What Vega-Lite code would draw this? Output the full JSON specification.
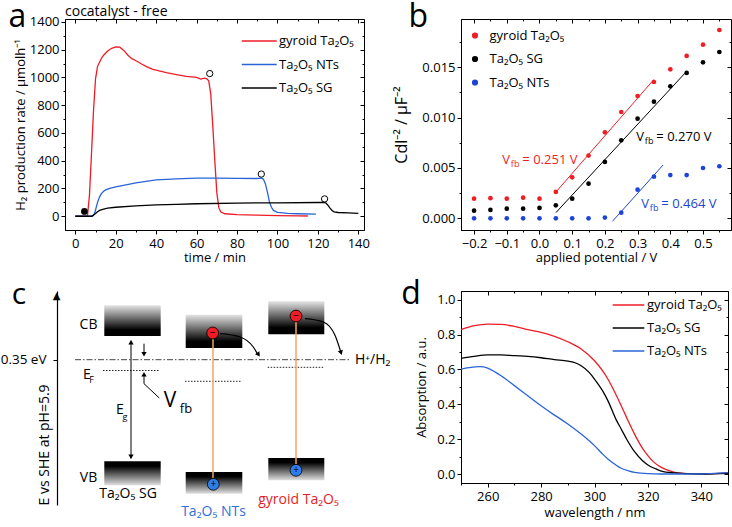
{
"$schema": "https://vega.github.io/schema/vega-lite/v6.json",
"padding": {"left": 0, "top": 0, "right": 0, "bottom": 0},
"bounds": "flush",
"columns": 2,
"align": {"row": "each", "column": "none"},
"spacing": {"row": 61, "column": 90},
"resolve": {"scale": {"color": "independent", "fill": "independent", "shape": "independent"}, "legend": {"color": "independent"}},
"config": {
  "font": "Open Sans",
  "view": {"stroke": "#000", "strokeWidth": 1},
  "axis": {"grid": false, "domainColor": "#000", "tickColor": "#000", "labelColor": "#000", "titleColor": "#000", "labelFontSize": 13, "titleFontSize": 13, "titleFontWeight": "normal", "labelFont": "Open Sans", "titleFont": "Open Sans", "labelPadding": 3, "tickSize": 4, "tickWidth": 1, "domainWidth": 1},
  "legend": {"labelFontSize": 13, "labelFont": "Open Sans", "labelColor": "#000", "padding": 0},
  "title": {"font": "Open Sans", "fontWeight": "normal", "color": "#000"}
},
"datasets": {
  "h2": [
    {"s":"gyroid Ta₂O₅","t":0,"r":0},{"s":"gyroid Ta₂O₅","t":6,"r":0},{"s":"gyroid Ta₂O₅","t":7,"r":150},{"s":"gyroid Ta₂O₅","t":8,"r":450},{"s":"gyroid Ta₂O₅","t":9,"r":760},{"s":"gyroid Ta₂O₅","t":10,"r":990},{"s":"gyroid Ta₂O₅","t":11,"r":1080},{"s":"gyroid Ta₂O₅","t":12,"r":1110},{"s":"gyroid Ta₂O₅","t":13,"r":1140},{"s":"gyroid Ta₂O₅","t":14,"r":1160},{"s":"gyroid Ta₂O₅","t":16,"r":1190},{"s":"gyroid Ta₂O₅","t":18,"r":1210},{"s":"gyroid Ta₂O₅","t":20,"r":1220},{"s":"gyroid Ta₂O₅","t":22,"r":1218},{"s":"gyroid Ta₂O₅","t":24,"r":1195},{"s":"gyroid Ta₂O₅","t":26,"r":1160},{"s":"gyroid Ta₂O₅","t":28,"r":1135},{"s":"gyroid Ta₂O₅","t":30,"r":1120},{"s":"gyroid Ta₂O₅","t":33,"r":1095},{"s":"gyroid Ta₂O₅","t":35,"r":1080},{"s":"gyroid Ta₂O₅","t":38,"r":1060},{"s":"gyroid Ta₂O₅","t":40,"r":1052},{"s":"gyroid Ta₂O₅","t":45,"r":1035},{"s":"gyroid Ta₂O₅","t":50,"r":1021},{"s":"gyroid Ta₂O₅","t":55,"r":1008},{"s":"gyroid Ta₂O₅","t":60,"r":1000},{"s":"gyroid Ta₂O₅","t":62,"r":988},{"s":"gyroid Ta₂O₅","t":64,"r":995},{"s":"gyroid Ta₂O₅","t":65,"r":990},{"s":"gyroid Ta₂O₅","t":66,"r":975},{"s":"gyroid Ta₂O₅","t":67,"r":880},{"s":"gyroid Ta₂O₅","t":68,"r":650},{"s":"gyroid Ta₂O₅","t":69,"r":400},{"s":"gyroid Ta₂O₅","t":70,"r":170},{"s":"gyroid Ta₂O₅","t":71,"r":60},{"s":"gyroid Ta₂O₅","t":72,"r":30},{"s":"gyroid Ta₂O₅","t":74,"r":18},{"s":"gyroid Ta₂O₅","t":80,"r":12},{"s":"gyroid Ta₂O₅","t":90,"r":8},{"s":"gyroid Ta₂O₅","t":100,"r":5},{"s":"gyroid Ta₂O₅","t":110,"r":3},{"s":"gyroid Ta₂O₅","t":115,"r":2},
    {"s":"Ta₂O₅ NTs","t":0,"r":0},{"s":"Ta₂O₅ NTs","t":8.5,"r":0},{"s":"Ta₂O₅ NTs","t":9.5,"r":20},{"s":"Ta₂O₅ NTs","t":10,"r":45},{"s":"Ta₂O₅ NTs","t":11,"r":100},{"s":"Ta₂O₅ NTs","t":12,"r":140},{"s":"Ta₂O₅ NTs","t":13,"r":165},{"s":"Ta₂O₅ NTs","t":14,"r":180},{"s":"Ta₂O₅ NTs","t":15,"r":190},{"s":"Ta₂O₅ NTs","t":17,"r":200},{"s":"Ta₂O₅ NTs","t":20,"r":212},{"s":"Ta₂O₅ NTs","t":25,"r":226},{"s":"Ta₂O₅ NTs","t":30,"r":240},{"s":"Ta₂O₅ NTs","t":35,"r":252},{"s":"Ta₂O₅ NTs","t":40,"r":262},{"s":"Ta₂O₅ NTs","t":45,"r":266},{"s":"Ta₂O₅ NTs","t":50,"r":270},{"s":"Ta₂O₅ NTs","t":60,"r":274},{"s":"Ta₂O₅ NTs","t":70,"r":275},{"s":"Ta₂O₅ NTs","t":80,"r":273},{"s":"Ta₂O₅ NTs","t":90,"r":272},{"s":"Ta₂O₅ NTs","t":92,"r":275},{"s":"Ta₂O₅ NTs","t":93,"r":268},{"s":"Ta₂O₅ NTs","t":94,"r":235},{"s":"Ta₂O₅ NTs","t":95,"r":175},{"s":"Ta₂O₅ NTs","t":96,"r":105},{"s":"Ta₂O₅ NTs","t":97,"r":65},{"s":"Ta₂O₅ NTs","t":98,"r":42},{"s":"Ta₂O₅ NTs","t":100,"r":28},{"s":"Ta₂O₅ NTs","t":105,"r":21},{"s":"Ta₂O₅ NTs","t":110,"r":18},{"s":"Ta₂O₅ NTs","t":119,"r":15},
    {"s":"Ta₂O₅ SG","t":0,"r":0},{"s":"Ta₂O₅ SG","t":8,"r":0},{"s":"Ta₂O₅ SG","t":9,"r":8},{"s":"Ta₂O₅ SG","t":10,"r":20},{"s":"Ta₂O₅ SG","t":11,"r":32},{"s":"Ta₂O₅ SG","t":12,"r":42},{"s":"Ta₂O₅ SG","t":14,"r":52},{"s":"Ta₂O₅ SG","t":16,"r":58},{"s":"Ta₂O₅ SG","t":20,"r":65},{"s":"Ta₂O₅ SG","t":30,"r":75},{"s":"Ta₂O₅ SG","t":40,"r":82},{"s":"Ta₂O₅ SG","t":50,"r":86},{"s":"Ta₂O₅ SG","t":60,"r":90},{"s":"Ta₂O₅ SG","t":80,"r":95},{"s":"Ta₂O₅ SG","t":100,"r":97},{"s":"Ta₂O₅ SG","t":120,"r":99},{"s":"Ta₂O₅ SG","t":123,"r":100},{"s":"Ta₂O₅ SG","t":124,"r":95},{"s":"Ta₂O₅ SG","t":125,"r":78},{"s":"Ta₂O₅ SG","t":126,"r":58},{"s":"Ta₂O₅ SG","t":127,"r":42},{"s":"Ta₂O₅ SG","t":128,"r":32},{"s":"Ta₂O₅ SG","t":130,"r":27},{"s":"Ta₂O₅ SG","t":135,"r":24},{"s":"Ta₂O₅ SG","t":140,"r":21}
  ],
  "h2marks": [
    {"k":"start","t":4.5,"r":35},{"k":"stop","t":66.5,"r":1028},{"k":"stop","t":92,"r":304},{"k":"stop","t":123.3,"r":125}
  ],
  "mott": [
    {"s":"gyroid Ta₂O₅","v":-0.2,"c":0.00195},{"s":"gyroid Ta₂O₅","v":-0.15,"c":0.0020},{"s":"gyroid Ta₂O₅","v":-0.1,"c":0.00195},{"s":"gyroid Ta₂O₅","v":-0.05,"c":0.00205},{"s":"gyroid Ta₂O₅","v":0,"c":0.00195},{"s":"gyroid Ta₂O₅","v":0.05,"c":0.00262},{"s":"gyroid Ta₂O₅","v":0.1,"c":0.00407},{"s":"gyroid Ta₂O₅","v":0.15,"c":0.00623},{"s":"gyroid Ta₂O₅","v":0.2,"c":0.00854},{"s":"gyroid Ta₂O₅","v":0.25,"c":0.01056},{"s":"gyroid Ta₂O₅","v":0.3,"c":0.01215},{"s":"gyroid Ta₂O₅","v":0.35,"c":0.01354},{"s":"gyroid Ta₂O₅","v":0.4,"c":0.0148},{"s":"gyroid Ta₂O₅","v":0.45,"c":0.01613},{"s":"gyroid Ta₂O₅","v":0.5,"c":0.01725},{"s":"gyroid Ta₂O₅","v":0.55,"c":0.01871},
    {"s":"Ta₂O₅ SG","v":-0.2,"c":0.00076},{"s":"Ta₂O₅ SG","v":-0.15,"c":0.00083},{"s":"Ta₂O₅ SG","v":-0.1,"c":0.00096},{"s":"Ta₂O₅ SG","v":-0.05,"c":0.00096},{"s":"Ta₂O₅ SG","v":0,"c":0.00103},{"s":"Ta₂O₅ SG","v":0.05,"c":0.00129},{"s":"Ta₂O₅ SG","v":0.1,"c":0.00195},{"s":"Ta₂O₅ SG","v":0.15,"c":0.00344},{"s":"Ta₂O₅ SG","v":0.2,"c":0.0056},{"s":"Ta₂O₅ SG","v":0.25,"c":0.00775},{"s":"Ta₂O₅ SG","v":0.3,"c":0.0099},{"s":"Ta₂O₅ SG","v":0.35,"c":0.01159},{"s":"Ta₂O₅ SG","v":0.4,"c":0.01311},{"s":"Ta₂O₅ SG","v":0.45,"c":0.01444},{"s":"Ta₂O₅ SG","v":0.5,"c":0.0155},{"s":"Ta₂O₅ SG","v":0.55,"c":0.01652},
    {"s":"Ta₂O₅ NTs","v":-0.2,"c":0},{"s":"Ta₂O₅ NTs","v":-0.15,"c":0},{"s":"Ta₂O₅ NTs","v":-0.1,"c":0},{"s":"Ta₂O₅ NTs","v":-0.05,"c":0},{"s":"Ta₂O₅ NTs","v":0,"c":0},{"s":"Ta₂O₅ NTs","v":0.05,"c":0},{"s":"Ta₂O₅ NTs","v":0.1,"c":0},{"s":"Ta₂O₅ NTs","v":0.15,"c":0},{"s":"Ta₂O₅ NTs","v":0.2,"c":0.00007},{"s":"Ta₂O₅ NTs","v":0.25,"c":0.00056},{"s":"Ta₂O₅ NTs","v":0.3,"c":0.00285},{"s":"Ta₂O₅ NTs","v":0.35,"c":0.00414},{"s":"Ta₂O₅ NTs","v":0.4,"c":0.0043},{"s":"Ta₂O₅ NTs","v":0.45,"c":0.0043},{"s":"Ta₂O₅ NTs","v":0.5,"c":0.005},{"s":"Ta₂O₅ NTs","v":0.55,"c":0.00517}
  ],
  "fits": [
    {"s":"gyroid Ta₂O₅","v":0.05,"c":0.0026},{"s":"gyroid Ta₂O₅","v":0.35,"c":0.0138},
    {"s":"Ta₂O₅ SG","v":0.05,"c":0.00056},{"s":"Ta₂O₅ SG","v":0.45,"c":0.0146},
    {"s":"Ta₂O₅ NTs","v":0.223,"c":-0.0003},{"s":"Ta₂O₅ NTs","v":0.378,"c":0.0053}
  ],
  "vfb": [
    {"s":"gyroid Ta₂O₅","v":-0.1135,"c":0.00576,"txt":"= 0.251 V"},
    {"s":"Ta₂O₅ SG","v":0.2962,"c":0.00808,"txt":"= 0.270 V"},
    {"s":"Ta₂O₅ NTs","v":0.3115,"c":0.00139,"txt":"= 0.464 V"}
  ],
  "abs": [
    {"s":"gyroid Ta₂O₅","w":250,"a":0.828},{"s":"gyroid Ta₂O₅","w":255,"a":0.851},{"s":"gyroid Ta₂O₅","w":260,"a":0.86},{"s":"gyroid Ta₂O₅","w":265,"a":0.858},{"s":"gyroid Ta₂O₅","w":270,"a":0.847},{"s":"gyroid Ta₂O₅","w":275,"a":0.828},{"s":"gyroid Ta₂O₅","w":280,"a":0.813},{"s":"gyroid Ta₂O₅","w":285,"a":0.79},{"s":"gyroid Ta₂O₅","w":290,"a":0.759},{"s":"gyroid Ta₂O₅","w":295,"a":0.717},{"s":"gyroid Ta₂O₅","w":300,"a":0.65},{"s":"gyroid Ta₂O₅","w":303,"a":0.593},{"s":"gyroid Ta₂O₅","w":305,"a":0.545},{"s":"gyroid Ta₂O₅","w":307,"a":0.488},{"s":"gyroid Ta₂O₅","w":310,"a":0.392},{"s":"gyroid Ta₂O₅","w":312,"a":0.325},{"s":"gyroid Ta₂O₅","w":315,"a":0.229},{"s":"gyroid Ta₂O₅","w":318,"a":0.147},{"s":"gyroid Ta₂O₅","w":320,"a":0.105},{"s":"gyroid Ta₂O₅","w":322,"a":0.071},{"s":"gyroid Ta₂O₅","w":325,"a":0.038},{"s":"gyroid Ta₂O₅","w":328,"a":0.019},{"s":"gyroid Ta₂O₅","w":330,"a":0.01},{"s":"gyroid Ta₂O₅","w":335,"a":0.002},{"s":"gyroid Ta₂O₅","w":340,"a":0},{"s":"gyroid Ta₂O₅","w":345,"a":0.002},{"s":"gyroid Ta₂O₅","w":350,"a":0.006},
    {"s":"Ta₂O₅ SG","w":250,"a":0.664},{"s":"Ta₂O₅ SG","w":255,"a":0.675},{"s":"Ta₂O₅ SG","w":260,"a":0.683},{"s":"Ta₂O₅ SG","w":265,"a":0.684},{"s":"Ta₂O₅ SG","w":270,"a":0.679},{"s":"Ta₂O₅ SG","w":275,"a":0.675},{"s":"Ta₂O₅ SG","w":280,"a":0.667},{"s":"Ta₂O₅ SG","w":285,"a":0.656},{"s":"Ta₂O₅ SG","w":290,"a":0.648},{"s":"Ta₂O₅ SG","w":293,"a":0.637},{"s":"Ta₂O₅ SG","w":295,"a":0.621},{"s":"Ta₂O₅ SG","w":298,"a":0.583},{"s":"Ta₂O₅ SG","w":300,"a":0.545},{"s":"Ta₂O₅ SG","w":303,"a":0.478},{"s":"Ta₂O₅ SG","w":305,"a":0.421},{"s":"Ta₂O₅ SG","w":308,"a":0.315},{"s":"Ta₂O₅ SG","w":310,"a":0.258},{"s":"Ta₂O₅ SG","w":312,"a":0.201},{"s":"Ta₂O₅ SG","w":315,"a":0.128},{"s":"Ta₂O₅ SG","w":318,"a":0.076},{"s":"Ta₂O₅ SG","w":320,"a":0.052},{"s":"Ta₂O₅ SG","w":323,"a":0.029},{"s":"Ta₂O₅ SG","w":325,"a":0.017},{"s":"Ta₂O₅ SG","w":330,"a":0.006},{"s":"Ta₂O₅ SG","w":335,"a":0.002},{"s":"Ta₂O₅ SG","w":340,"a":0},{"s":"Ta₂O₅ SG","w":350,"a":0.004},
    {"s":"Ta₂O₅ NTs","w":250,"a":0.602},{"s":"Ta₂O₅ NTs","w":253,"a":0.61},{"s":"Ta₂O₅ NTs","w":257,"a":0.616},{"s":"Ta₂O₅ NTs","w":260,"a":0.608},{"s":"Ta₂O₅ NTs","w":263,"a":0.583},{"s":"Ta₂O₅ NTs","w":265,"a":0.564},{"s":"Ta₂O₅ NTs","w":270,"a":0.507},{"s":"Ta₂O₅ NTs","w":275,"a":0.449},{"s":"Ta₂O₅ NTs","w":280,"a":0.392},{"s":"Ta₂O₅ NTs","w":285,"a":0.338},{"s":"Ta₂O₅ NTs","w":290,"a":0.287},{"s":"Ta₂O₅ NTs","w":295,"a":0.229},{"s":"Ta₂O₅ NTs","w":298,"a":0.191},{"s":"Ta₂O₅ NTs","w":300,"a":0.163},{"s":"Ta₂O₅ NTs","w":303,"a":0.115},{"s":"Ta₂O₅ NTs","w":305,"a":0.086},{"s":"Ta₂O₅ NTs","w":308,"a":0.052},{"s":"Ta₂O₅ NTs","w":310,"a":0.033},{"s":"Ta₂O₅ NTs","w":313,"a":0.017},{"s":"Ta₂O₅ NTs","w":315,"a":0.01},{"s":"Ta₂O₅ NTs","w":320,"a":0.002},{"s":"Ta₂O₅ NTs","w":325,"a":0},{"s":"Ta₂O₅ NTs","w":340,"a":0},{"s":"Ta₂O₅ NTs","w":345,"a":0.004},{"s":"Ta₂O₅ NTs","w":350,"a":0.008}
  ],
  "bands": [
    {"m":"SG","b":"CB","x":0.393,"x2":0.957,"y":0.894,"y2":0.587},
    {"m":"SG","b":"VB","x":0.393,"x2":0.957,"y":-0.666,"y2":-0.906},
    {"m":"NTs","b":"CB","x":1.207,"x2":1.773,"y":0.80,"y2":0.467},
    {"m":"NTs","b":"VB","x":1.207,"x2":1.773,"y":-0.773,"y2":-0.99},
    {"m":"gyroid","b":"CB","x":2.033,"x2":2.593,"y":0.934,"y2":0.604},
    {"m":"gyroid","b":"VB","x":2.033,"x2":2.593,"y":-0.633,"y2":-0.856}
  ],
  "fermi": [
    {"m":"SG","x":0.38,"x2":0.95,"y":0.242},
    {"m":"NTs","x":1.20,"x2":1.767,"y":0.134},
    {"m":"gyroid","x":2.027,"x2":2.583,"y":0.274}
  ],
  "redox": [{"x":0.10,"x2":2.85,"y":0.35}],
  "eaxishead": [{"txt":"▲","x":-0.083,"y":0.99}],
  "shafts": [
    {"what":"Eg","x":0.66,"y":0.54,"y2":-0.636},
    {"what":"Vfb down","x":0.79,"y":0.51,"y2":0.41}
  ],
  "leader": [
    {"i":1,"x":0.79,"y":0.19},{"i":2,"x":0.79,"y":0.11},{"i":3,"x":0.943,"y":-0.033}
  ],
  "heads": [
    {"d":"up","x":0.66,"y":0.525},
    {"d":"down","x":0.66,"y":-0.62},
    {"d":"down","x":0.79,"y":0.405},
    {"d":"up","x":0.79,"y":0.205}
  ],
  "trans": [
    {"m":"NTs","x":1.48,"y":0.557,"y2":-0.833},
    {"m":"gyroid","x":2.31,"y":0.727,"y2":-0.693}
  ],
  "curves": [
    {"a":"NTs","x":1.55,"y":0.61},{"a":"NTs","x":1.75,"y":0.577},{"a":"NTs","x":1.883,"y":0.477},{"a":"NTs","x":1.93,"y":0.40},
    {"a":"gyroid","x":2.40,"y":0.76},{"a":"gyroid","x":2.583,"y":0.727},{"a":"gyroid","x":2.70,"y":0.594},{"a":"gyroid","x":2.755,"y":0.437}
  ],
  "curveheads": [
    {"a":"NTs","x":1.935,"y":0.40},
    {"a":"gyroid","x":2.76,"y":0.42}
  ],
  "carriers": [
    {"q":"e","sg":"−","x":1.477,"y":0.617},
    {"q":"e","sg":"−","x":2.31,"y":0.787},
    {"q":"h","sg":"+","x":1.483,"y":-0.896},
    {"q":"h","sg":"+","x":2.31,"y":-0.756}
  ],
  "ctext": [
    {"role":"label","g":"none","txt":"CB","x":0.235,"y":0.697},
    {"role":"label","g":"none","txt":"VB","x":0.235,"y":-0.833},
    {"role":"label","g":"none","txt":"E","x":0.22,"y":0.197},
    {"role":"sub","g":"none","txt":"F","x":0.265,"y":0.15},
    {"role":"label","g":"none","txt":"E","x":0.55,"y":-0.148},
    {"role":"sub","g":"none","txt":"g","x":0.60,"y":-0.223},
    {"role":"big","g":"none","txt":"V","x":1.05,"y":-0.058},
    {"role":"fb","g":"none","txt":"fb","x":1.21,"y":-0.143},
    {"role":"label","g":"SG","txt":"Ta₂O₅ SG","x":0.63,"y":-0.99},
    {"role":"label","g":"NTs","txt":"Ta₂O₅ NTs","x":1.485,"y":-1.173},
    {"role":"label","g":"gyroid","txt":"gyroid Ta₂O₅","x":2.335,"y":-1.05},
    {"role":"side","g":"none","txt":"H⁺/H₂","x":2.90,"y":0.35},
    {"role":"panel","g":"none","txt":"c","x":-0.46,"y":0.907}
  ]
},
"concat": [
  {
    "width": 299, "height": 211,
    "resolve": {"axis": {"x": "independent", "y": "independent"}},
    "layer": [
      {
        "data": {"name": "h2"},
        "mark": {"type": "line", "strokeWidth": 1.3},
        "encoding": {
          "x": {"field": "t", "type": "quantitative", "scale": {"domain": [-5.1, 142.8], "nice": false, "zero": false},
                "axis": {"title": "time / min", "format": "d", "values": [0,10,20,30,40,50,60,70,80,90,100,110,120,130,140], "labelExpr": "datum.value % 20 === 0 ? datum.label : ''", "tickSize": {"condition": {"test": "datum.value % 20 === 0", "value": 4}, "value": 2}, "labelPadding": 3, "titlePadding": 1}},
          "y": {"field": "r", "type": "quantitative", "scale": {"domain": [-99, 1421], "nice": false, "zero": false},
                "axis": {"title": "H₂ production rate / μmolh⁻¹", "format": "d", "values": [0,100,200,300,400,500,600,700,800,900,1000,1100,1200,1300,1400], "labelExpr": "datum.value % 200 === 0 ? datum.label : ''", "tickSize": {"condition": {"test": "datum.value % 200 === 0", "value": 4}, "value": 2}, "labelPadding": 2, "titlePadding": 2}},
          "color": {"field": "s", "type": "nominal", "scale": {"domain": ["gyroid Ta₂O₅", "Ta₂O₅ NTs", "Ta₂O₅ SG"], "range": ["#ee1c25", "#2a64d8", "#000000"]},
                    "legend": {"title": null, "orient": "none", "legendX": 176, "legendY": 15.5, "symbolType": "M-1,0H3", "symbolSize": 306, "symbolStrokeWidth": 1.5, "labelOffset": 19, "clipHeight": 13, "rowPadding": 9.5}}
        }
      },
      {
        "data": {"name": "h2marks"},
        "transform": [{"filter": "datum.k === 'start'"}],
        "mark": {"type": "point", "filled": true, "color": "#000", "size": 45, "opacity": 1},
        "encoding": {
          "x": {"field": "t", "type": "quantitative", "scale": {"domain": [-5.1, 142.8], "nice": false, "zero": false}, "axis": null},
          "y": {"field": "r", "type": "quantitative", "scale": {"domain": [-99, 1421], "nice": false, "zero": false}, "axis": null}
        }
      },
      {
        "data": {"name": "h2marks"},
        "transform": [{"filter": "datum.k === 'stop'"}],
        "mark": {"type": "point", "filled": false, "color": "#000", "size": 40, "strokeWidth": 1, "opacity": 1},
        "encoding": {
          "x": {"field": "t", "type": "quantitative", "scale": {"domain": [-5.1, 142.8], "nice": false, "zero": false}, "axis": null},
          "y": {"field": "r", "type": "quantitative", "scale": {"domain": [-99, 1421], "nice": false, "zero": false}, "axis": null}
        }
      },
      {
        "data": {"name": "h2marks"},
        "mark": {"type": "point", "opacity": 0},
        "encoding": {
          "x": {"field": "t", "type": "quantitative", "scale": {"domain": [-5.1, 142.8], "nice": false, "zero": false},
                "axis": {"orient": "top", "title": null, "labels": false, "domain": false, "values": [0,10,20,30,40,50,60,70,80,90,100,110,120,130,140], "tickSize": {"condition": {"test": "datum.value % 20 === 0", "value": -4}, "value": -2}}},
          "y": {"field": "r", "type": "quantitative", "scale": {"domain": [-99, 1421], "nice": false, "zero": false},
                "axis": {"orient": "right", "title": null, "labels": false, "domain": false, "values": [0,100,200,300,400,500,600,700,800,900,1000,1100,1200,1300,1400], "tickSize": {"condition": {"test": "datum.value % 200 === 0", "value": -4}, "value": -2}}}
        }
      },
      {
        "data": {"values": [{"lab": "a", "t": -28.6, "r": 1364}]},
        "mark": {"type": "text", "fontSize": 32, "align": "center", "baseline": "alphabetic", "color": "#000"},
        "encoding": {
          "x": {"field": "t", "type": "quantitative", "scale": {"domain": [-5.1, 142.8], "nice": false, "zero": false}, "axis": null},
          "y": {"field": "r", "type": "quantitative", "scale": {"domain": [-99, 1421], "nice": false, "zero": false}, "axis": null},
          "text": {"field": "lab"}
        }
      },
      {
        "data": {"values": [{"lab": "cocatalyst - free", "t": -5.1, "r": 1472}]},
        "mark": {"type": "text", "fontSize": 14, "align": "left", "baseline": "middle", "color": "#000"},
        "encoding": {
          "x": {"field": "t", "type": "quantitative", "scale": {"domain": [-5.1, 142.8], "nice": false, "zero": false}, "axis": null},
          "y": {"field": "r", "type": "quantitative", "scale": {"domain": [-99, 1421], "nice": false, "zero": false}, "axis": null},
          "text": {"field": "lab"}
        }
      }
    ]
  },
  {
    "width": 270, "height": 211,
    "resolve": {"axis": {"x": "independent", "y": "independent"}},
    "layer": [
      {
        "data": {"name": "mott"},
        "mark": {"type": "point", "filled": true, "size": 22, "opacity": 1},
        "encoding": {
          "x": {"field": "v", "type": "quantitative", "scale": {"domain": [-0.24, 0.5856], "nice": false, "zero": false},
                "axis": {"title": "applied potential / V", "format": ".1f", "values": [-0.2,-0.15,-0.1,-0.05,0,0.05,0.1,0.15,0.2,0.25,0.3,0.35,0.4,0.45,0.5,0.55], "labelExpr": "round(datum.value*20) % 2 === 0 ? datum.label : ''", "tickSize": {"condition": {"test": "round(datum.value*20) % 2 === 0", "value": 4}, "value": 2}, "labelPadding": 3, "titlePadding": 1}},
          "y": {"field": "c", "type": "quantitative", "scale": {"domain": [-0.00116, 0.0198], "nice": false, "zero": false},
                "axis": {"title": "Cdl⁻²  / μF⁻²", "titleFontSize": 16, "format": ".3f", "values": [0,0.0025,0.005,0.0075,0.01,0.0125,0.015,0.0175], "labelExpr": "round(datum.value*400) % 2 === 0 ? datum.label : ''", "tickSize": {"condition": {"test": "round(datum.value*400) % 2 === 0", "value": 4}, "value": 2}, "labelPadding": 2, "titlePadding": 12}},
          "color": {"field": "s", "type": "nominal", "scale": {"domain": ["gyroid Ta₂O₅", "Ta₂O₅ SG", "Ta₂O₅ NTs"], "range": ["#f01e23", "#000000", "#1d44d6"]},
                    "legend": {"title": null, "orient": "none", "legendX": 7.5, "legendY": 10, "symbolType": "circle", "symbolSize": 22, "labelOffset": 8, "clipHeight": 13, "rowPadding": 9.5}}
        }
      },
      {
        "data": {"name": "fits"},
        "mark": {"type": "line", "strokeWidth": 1},
        "encoding": {
          "x": {"field": "v", "type": "quantitative", "scale": {"domain": [-0.24, 0.5856], "nice": false, "zero": false}, "axis": null},
          "y": {"field": "c", "type": "quantitative", "scale": {"domain": [-0.00116, 0.0198], "nice": false, "zero": false}, "axis": null},
          "color": {"field": "s", "type": "nominal", "legend": null}
        }
      },
      {
        "data": {"name": "vfb"},
        "mark": {"type": "text", "fontSize": 13, "align": "left", "baseline": "middle"},
        "encoding": {
          "x": {"field": "v", "type": "quantitative", "scale": {"domain": [-0.24, 0.5856], "nice": false, "zero": false}, "axis": null},
          "y": {"field": "c", "type": "quantitative", "scale": {"domain": [-0.00116, 0.0198], "nice": false, "zero": false}, "axis": null},
          "color": {"field": "s", "type": "nominal", "legend": null},
          "text": {"value": "V"}
        }
      },
      {
        "data": {"name": "vfb"},
        "mark": {"type": "text", "fontSize": 9, "align": "left", "baseline": "middle", "dx": 8.5, "dy": 4},
        "encoding": {
          "x": {"field": "v", "type": "quantitative", "scale": {"domain": [-0.24, 0.5856], "nice": false, "zero": false}, "axis": null},
          "y": {"field": "c", "type": "quantitative", "scale": {"domain": [-0.00116, 0.0198], "nice": false, "zero": false}, "axis": null},
          "color": {"field": "s", "type": "nominal", "legend": null},
          "text": {"value": "fb"}
        }
      },
      {
        "data": {"name": "vfb"},
        "mark": {"type": "text", "fontSize": 13, "align": "left", "baseline": "middle", "dx": 20},
        "encoding": {
          "x": {"field": "v", "type": "quantitative", "scale": {"domain": [-0.24, 0.5856], "nice": false, "zero": false}, "axis": null},
          "y": {"field": "c", "type": "quantitative", "scale": {"domain": [-0.00116, 0.0198], "nice": false, "zero": false}, "axis": null},
          "color": {"field": "s", "type": "nominal", "legend": null},
          "text": {"field": "txt"}
        }
      },
      {
        "data": {"name": "mott"},
        "mark": {"type": "point", "opacity": 0},
        "encoding": {
          "x": {"field": "v", "type": "quantitative", "scale": {"domain": [-0.24, 0.5856], "nice": false, "zero": false},
                "axis": {"orient": "top", "title": null, "labels": false, "domain": false, "values": [-0.2,-0.15,-0.1,-0.05,0,0.05,0.1,0.15,0.2,0.25,0.3,0.35,0.4,0.45,0.5,0.55], "tickSize": {"condition": {"test": "round(datum.value*20) % 2 === 0", "value": -4}, "value": -2}}},
          "y": {"field": "c", "type": "quantitative", "scale": {"domain": [-0.00116, 0.0198], "nice": false, "zero": false},
                "axis": {"orient": "right", "title": null, "labels": false, "domain": false, "values": [0,0.0025,0.005,0.0075,0.01,0.0125,0.015,0.0175], "tickSize": {"condition": {"test": "round(datum.value*400) % 2 === 0", "value": -4}, "value": -2}}}
        }
      },
      {
        "data": {"values": [{"lab": "b", "v": -0.371, "c": 0.0190}]},
        "mark": {"type": "text", "fontSize": 32, "align": "center", "baseline": "alphabetic", "color": "#000"},
        "encoding": {
          "x": {"field": "v", "type": "quantitative", "scale": {"domain": [-0.24, 0.5856], "nice": false, "zero": false}, "axis": null},
          "y": {"field": "c", "type": "quantitative", "scale": {"domain": [-0.00116, 0.0198], "nice": false, "zero": false}, "axis": null},
          "text": {"field": "lab"}
        }
      }
    ]
  },
  {
    "width": 306, "height": 214,
    "view": {"stroke": null},
    "encoding": {
      "x": {"field": "x", "type": "quantitative", "scale": {"domain": [0, 3.06], "nice": false, "zero": false}, "axis": null},
      "y": {"field": "y", "type": "quantitative", "scale": {"domain": [-1.103, 1.037], "nice": false, "zero": false},
            "axis": {"orient": "left", "offset": 8, "domain": true, "domainColor": "#000", "domainWidth": 1.2, "values": [0.35], "labelExpr": "'0.35 eV'", "labelFontSize": 13.5, "labelPadding": 7, "tickSize": 4, "title": "E vs SHE at pH=5.9", "titleFontSize": 14, "titleAnchor": "start", "minExtent": 4, "maxExtent": 4, "titlePadding": 2}}
    },
    "layer": [
      {
        "data": {"name": "bands"},
        "transform": [{"filter": "datum.b === 'CB'"}],
        "mark": {"type": "rect", "fill": {"gradient": "linear", "x1": 0, "y1": 0, "x2": 0, "y2": 1, "stops": [{"offset": 0, "color": "#e4e4e4"}, {"offset": 0.8, "color": "#000000"}, {"offset": 1, "color": "#000000"}]}},
        "encoding": {"x2": {"field": "x2"}, "y2": {"field": "y2"}}
      },
      {
        "data": {"name": "bands"},
        "transform": [{"filter": "datum.b === 'VB'"}],
        "mark": {"type": "rect", "fill": {"gradient": "linear", "x1": 0, "y1": 0, "x2": 0, "y2": 1, "stops": [{"offset": 0, "color": "#000000"}, {"offset": 0.2, "color": "#000000"}, {"offset": 1, "color": "#e0e0e0"}]}},
        "encoding": {"x2": {"field": "x2"}, "y2": {"field": "y2"}}
      },
      {
        "data": {"name": "fermi"},
        "mark": {"type": "rule", "color": "#222", "strokeWidth": 1, "strokeDash": [1.5, 1.5]},
        "encoding": {"x2": {"field": "x2"}}
      },
      {
        "data": {"name": "redox"},
        "mark": {"type": "rule", "color": "#444", "strokeWidth": 1, "strokeDash": [6, 2, 1.5, 2]},
        "encoding": {"x2": {"field": "x2"}}
      },
      {
        "data": {"name": "eaxishead"},
        "mark": {"type": "text", "fontSize": 10, "font": "DejaVu Sans", "align": "center", "baseline": "middle", "color": "#000"},
        "encoding": {"text": {"field": "txt"}}
      },
      {
        "data": {"name": "trans"},
        "mark": {"type": "rule", "color": "#f7a45e", "strokeWidth": 1.5},
        "encoding": {"y2": {"field": "y2"}}
      },
      {
        "data": {"name": "shafts"},
        "mark": {"type": "rule", "color": "#000", "strokeWidth": 1},
        "encoding": {"y2": {"field": "y2"}}
      },
      {
        "data": {"name": "leader"},
        "mark": {"type": "line", "color": "#000", "strokeWidth": 1},
        "encoding": {"order": {"field": "i", "type": "quantitative"}}
      },
      {
        "data": {"name": "curves"},
        "mark": {"type": "line", "color": "#000", "strokeWidth": 1.2, "interpolate": "monotone"},
        "encoding": {"detail": {"field": "a"}}
      },
      {
        "data": {"name": "heads"},
        "mark": {"type": "point", "filled": true, "color": "#000", "size": 28, "opacity": 1},
        "encoding": {"shape": {"field": "d", "type": "nominal", "scale": {"domain": ["up", "down"], "range": ["triangle-up", "triangle-down"]}, "legend": null}}
      },
      {
        "data": {"name": "curveheads"},
        "transform": [{"filter": "datum.a === 'NTs'"}],
        "mark": {"type": "point", "shape": "triangle-down", "filled": true, "color": "#000", "size": 28, "opacity": 1, "angle": -35}
      },
      {
        "data": {"name": "curveheads"},
        "transform": [{"filter": "datum.a === 'gyroid'"}],
        "mark": {"type": "point", "shape": "triangle-down", "filled": true, "color": "#000", "size": 28, "opacity": 1, "angle": -18}
      },
      {
        "data": {"name": "carriers"},
        "mark": {"type": "point", "shape": "circle", "filled": true, "stroke": "#000", "strokeWidth": 0.8, "size": 140, "opacity": 1},
        "encoding": {"fill": {"field": "q", "type": "nominal", "scale": {"domain": ["e", "h"], "range": ["#ee1c25", "#2f7de8"]}, "legend": null}}
      },
      {
        "data": {"name": "carriers"},
        "mark": {"type": "text", "fontSize": 10, "align": "center", "baseline": "middle", "color": "#000"},
        "encoding": {"text": {"field": "sg"}}
      },
      {
        "data": {"name": "ctext"},
        "transform": [{"filter": "datum.role === 'label'"}],
        "mark": {"type": "text", "fontSize": 14, "align": "center", "baseline": "middle"},
        "encoding": {"text": {"field": "txt"}, "color": {"field": "g", "type": "nominal", "scale": {"domain": ["none", "SG", "NTs", "gyroid"], "range": ["#000000", "#000000", "#2f6fd6", "#e41e26"]}, "legend": null}}
      },
      {
        "data": {"name": "ctext"},
        "transform": [{"filter": "datum.role === 'side'"}],
        "mark": {"type": "text", "fontSize": 14, "align": "left", "baseline": "middle", "color": "#000"},
        "encoding": {"text": {"field": "txt"}}
      },
      {
        "data": {"name": "ctext"},
        "transform": [{"filter": "datum.role === 'sub'"}],
        "mark": {"type": "text", "fontSize": 9, "align": "center", "baseline": "middle", "color": "#000"},
        "encoding": {"text": {"field": "txt"}}
      },
      {
        "data": {"name": "ctext"},
        "transform": [{"filter": "datum.role === 'big'"}],
        "mark": {"type": "text", "fontSize": 21, "align": "center", "baseline": "middle", "color": "#000"},
        "encoding": {"text": {"field": "txt"}}
      },
      {
        "data": {"name": "ctext"},
        "transform": [{"filter": "datum.role === 'fb'"}],
        "mark": {"type": "text", "fontSize": 13, "align": "center", "baseline": "middle", "color": "#000"},
        "encoding": {"text": {"field": "txt"}}
      },
      {
        "data": {"name": "ctext"},
        "transform": [{"filter": "datum.role === 'panel'"}],
        "mark": {"type": "text", "fontSize": 30, "align": "center", "baseline": "alphabetic", "color": "#000"},
        "encoding": {"text": {"field": "txt"}}
      }
    ]
  },
  {
    "width": 267, "height": 192,
    "resolve": {"axis": {"x": "independent", "y": "independent"}},
    "layer": [
      {
        "data": {"name": "abs"},
        "mark": {"type": "line", "strokeWidth": 1.3, "interpolate": "monotone"},
        "encoding": {
          "x": {"field": "w", "type": "quantitative", "scale": {"domain": [250, 350], "nice": false, "zero": false},
                "axis": {"title": "wavelength / nm", "format": "d", "values": [250,260,270,280,290,300,310,320,330,340,350], "labelExpr": "datum.value % 20 === 0 ? datum.label : ''", "tickSize": {"condition": {"test": "datum.value % 20 === 0", "value": 4}, "value": 2}, "labelPadding": 3, "titlePadding": 3}},
          "y": {"field": "a", "type": "quantitative", "scale": {"domain": [-0.0516, 1.05], "nice": false, "zero": false},
                "axis": {"title": "Absorption / a.u.", "format": ".1f", "values": [0,0.1,0.2,0.3,0.4,0.5,0.6,0.7,0.8,0.9,1], "labelExpr": "round(datum.value*10) % 2 === 0 ? datum.label : ''", "tickSize": {"condition": {"test": "round(datum.value*10) % 2 === 0", "value": 4}, "value": 2}, "labelPadding": 2, "titlePadding": 8}},
          "color": {"field": "s", "type": "nominal", "scale": {"domain": ["gyroid Ta₂O₅", "Ta₂O₅ SG", "Ta₂O₅ NTs"], "range": ["#ee1c25", "#000000", "#2a64d8"]},
                    "legend": {"title": null, "orient": "none", "legendX": 150.6, "legendY": 7.5, "symbolType": "M-1,0H3", "symbolSize": 250, "symbolStrokeWidth": 1.5, "labelOffset": 17.4, "clipHeight": 13, "rowPadding": 9}}
        }
      },
      {
        "data": {"name": "abs"},
        "mark": {"type": "point", "opacity": 0},
        "encoding": {
          "x": {"field": "w", "type": "quantitative", "scale": {"domain": [250, 350], "nice": false, "zero": false},
                "axis": {"orient": "top", "title": null, "labels": false, "domain": false, "values": [250,260,270,280,290,300,310,320,330,340,350], "tickSize": {"condition": {"test": "datum.value % 20 === 0", "value": -4}, "value": -2}}},
          "y": {"field": "a", "type": "quantitative", "scale": {"domain": [-0.0516, 1.05], "nice": false, "zero": false},
                "axis": {"orient": "right", "title": null, "labels": false, "domain": false, "values": [0,0.1,0.2,0.3,0.4,0.5,0.6,0.7,0.8,0.9,1], "tickSize": {"condition": {"test": "round(datum.value*10) % 2 === 0", "value": -4}, "value": -2}}}
        }
      },
      {
        "data": {"values": [{"lab": "d", "w": 231.3, "a": 0.975}]},
        "mark": {"type": "text", "fontSize": 32, "align": "center", "baseline": "alphabetic", "color": "#000"},
        "encoding": {
          "x": {"field": "w", "type": "quantitative", "scale": {"domain": [250, 350], "nice": false, "zero": false}, "axis": null},
          "y": {"field": "a", "type": "quantitative", "scale": {"domain": [-0.0516, 1.05], "nice": false, "zero": false}, "axis": null},
          "text": {"field": "lab"}
        }
      }
    ]
  }
]
}
